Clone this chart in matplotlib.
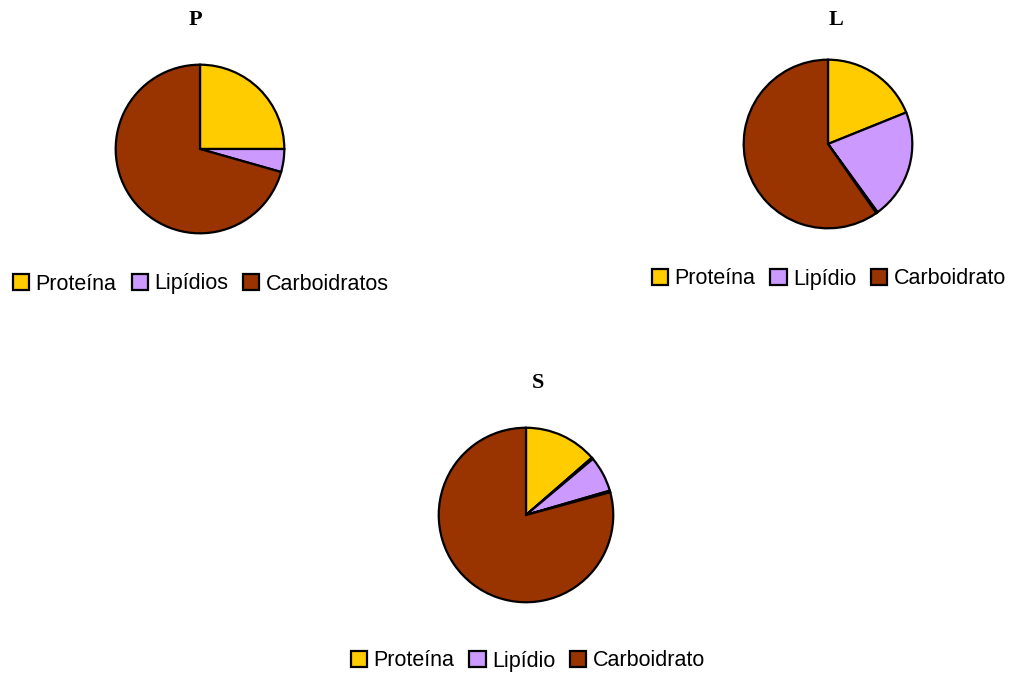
import matplotlib
matplotlib.use("Agg")
import matplotlib.pyplot as plt
from matplotlib.patches import Patch

W, H = 1013, 675

# Data (percent)
titles = ["P", "L", "S"]
p_labels = ["Proteína", "Lipídios", "Carboidratos"]
p_values = [25.0, 4.4, 70.6]
l_labels = ["Proteína", "Lipídio", "Carboidrato"]
l_values = [18.9, 21.1, 0.3, 59.7]          # tiny unlabeled slice before carbs
s_labels = ["Proteína", "Lipídio", "Carboidrato"]
s_values = [13.6, 0.3, 6.6, 0.3, 79.2]      # tiny unlabeled slices

c_prot, c_lip, c_carb, c_other = "#FFCC00", "#CC99FF", "#993300", "#999999"
p_colors = [c_prot, c_lip, c_carb]
l_colors = [c_prot, c_lip, c_other, c_carb]
s_colors = [c_prot, c_other, c_lip, c_other, c_carb]

fig = plt.figure(figsize=(W / 100, H / 100), dpi=100)
fig.patch.set_facecolor("white")


def pie_at(cx, cy, r, values, colors):
    ax = fig.add_axes([(cx - r) / W, 1 - (cy + r) / H, 2 * r / W, 2 * r / H])
    ax.pie(values, colors=colors, startangle=90, counterclock=False, radius=1,
           wedgeprops=dict(edgecolor="black", linewidth=1.6))
    ax.set_xlim(-1.02, 1.02)
    ax.set_ylim(-1.02, 1.02)
    ax.set_aspect("equal")
    ax.axis("off")
    return ax


def title_at(x, y, text):
    fig.text(x / W, 1 - y / H, text, ha="center", va="center",
             fontfamily="Liberation Serif", fontweight="bold", fontsize=16)


def legend_at(cx, cy, labels):
    handles = [Patch(facecolor=c, edgecolor="black", linewidth=1.6)
               for c in [c_prot, c_lip, c_carb]]
    fig.legend(handles, labels, loc="center", bbox_to_anchor=(cx / W, 1 - cy / H),
               ncol=3, frameon=False, handlelength=0.75, handleheight=0.75,
               handletextpad=0.3, columnspacing=0.7,
               prop=dict(family="Liberation Sans", size=15.5))


pie_at(200, 149, 86, p_values, p_colors)
pie_at(828, 144, 86, l_values, l_colors)
pie_at(526, 515, 89, s_values, s_colors)

title_at(195, 20, titles[0])
title_at(836, 20, titles[1])
title_at(538, 383, titles[2])

legend_at(201, 284, p_labels)
legend_at(829, 279, l_labels)
legend_at(528, 661, s_labels)

fig.savefig("out.png", dpi=100)
